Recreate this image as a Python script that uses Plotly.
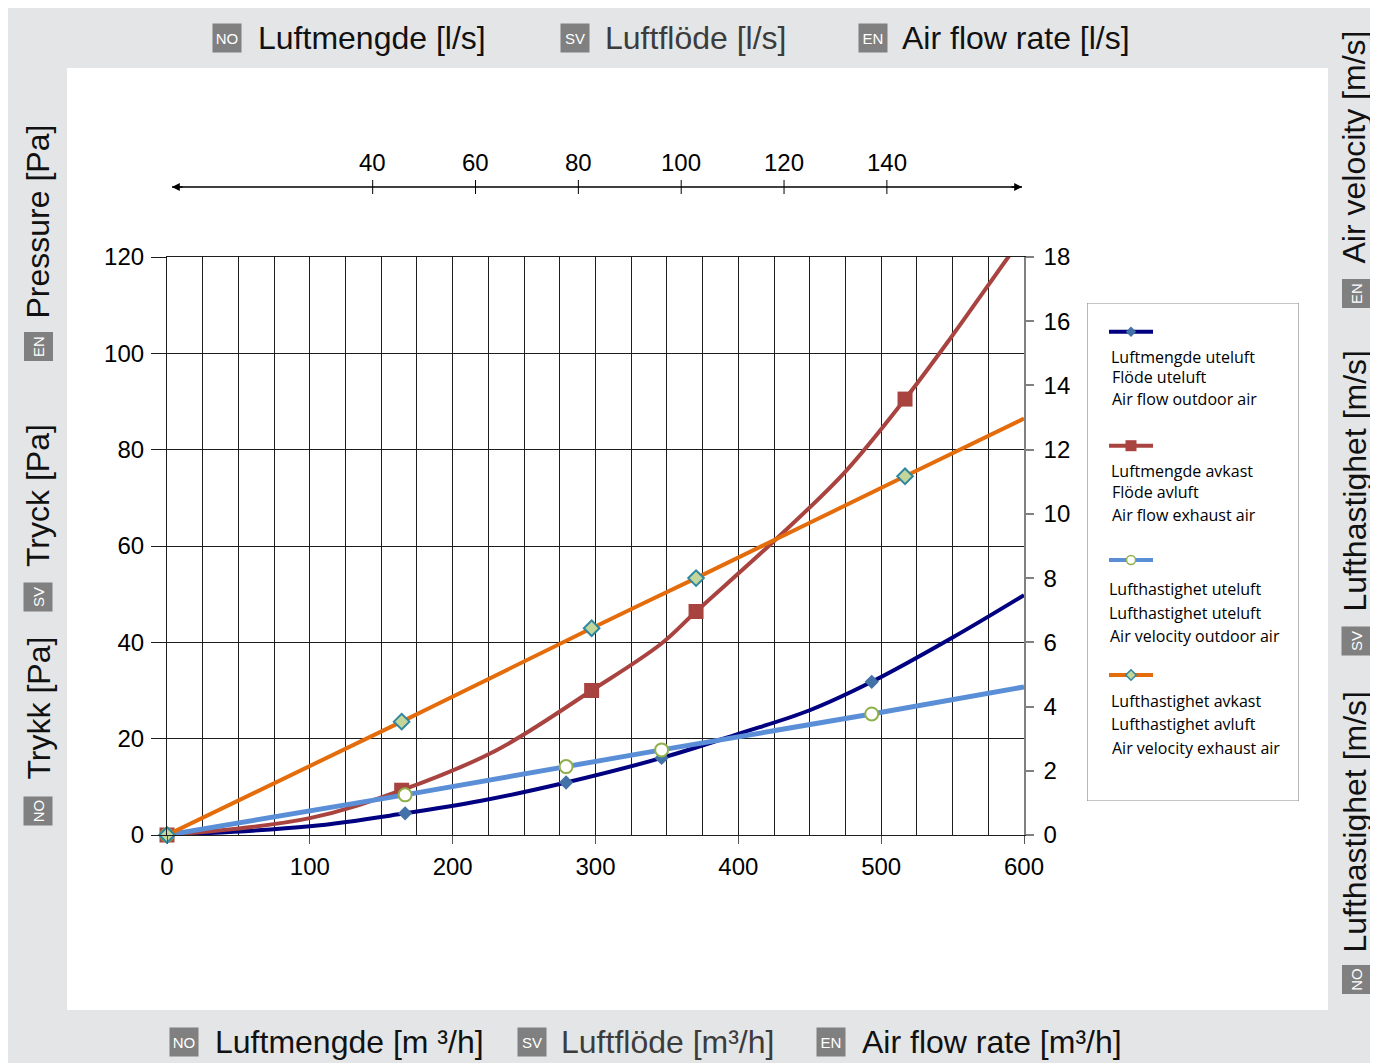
import plotly.graph_objects as go

# ---------------- data ----------------
# marker points, x in m3/h
outdoor_flow = [0, 166.7, 279.4, 346.3, 493.4]
exhaust_flow = [0, 164.3, 297.3, 370.4, 516.7]
outdoor_pressure = [0, 4.5, 10.9, 16.0, 31.8]          # Pa
exhaust_pressure = [0, 9.3, 30.0, 46.4, 90.5]          # Pa
outdoor_velocity = [0, 1.25, 2.13, 2.65, 3.77]         # m/s
exhaust_velocity = [0, 3.53, 6.44, 8.0, 11.17]         # m/s

# curve paths as drawn in the picture
outdoor_p_curve_x = [0, 100, 166.7, 220, 279.4, 346.3, 400, 450, 493.4, 550, 600]
outdoor_p_curve_y = [0, 1.8, 4.5, 7.1, 10.9, 16.0, 21.0, 25.9, 31.8, 41.0, 49.8]
exhaust_p_curve_x = [0, 100, 164.3, 230, 297.3, 346, 370.4, 424.5, 474.5, 516.7, 549.4, 589, 600]
exhaust_p_curve_y = [0, 3.5, 9.3, 17.5, 30.0, 39.7, 46.4, 60.9, 75.3, 90.5, 103.5, 120, 124.5]
outdoor_v_curve_x = [0, 166.7, 279.4, 346.3, 493.4, 600]
outdoor_v_curve_y = [0, 1.25, 2.13, 2.65, 3.77, 4.61]
exhaust_v_curve_x = [0, 164.3, 297.3, 370.4, 516.7, 600]
exhaust_v_curve_y = [0, 3.53, 6.44, 8.0, 11.17, 12.97]

top_ticks_ls = [40, 60, 80, 100, 120, 140]   # l/s
M3H_PER_LS = 3.6

legend_texts = [
    ["Luftmengde uteluft", "Flöde uteluft", "Air flow outdoor air"],
    ["Luftmengde avkast", "Flöde avluft", "Air flow exhaust air"],
    ["Lufthastighet uteluft", "Lufthastighet uteluft", "Air velocity outdoor air"],
    ["Lufthastighet avkast", "Lufthastighet avluft", "Air velocity exhaust air"],
]

# ---------------- styles ----------------
NAVY = "#000080"
RED = "#a9433f"
LBLUE = "#5a8fd8"
ORANGE = "#e46c0a"
GRID = "#1e1e1e"
BG = "#e4e5e7"
BADGE = "#808080"
TICKFONT = dict(family="Liberation Sans", size=24, color="#000")
TITLEFONT = "Liberation Sans"

# figure is placed at (8, 8) in the page (default body margin)
W, H = 1370, 1055
ML, MR, MT = 159, 68, 249
MB = H - (835 - 8)
PW = W - ML - MR
PH = H - MT - MB
X0, Y0 = 167, 835   # plot-area origin in page pixels


def px(x):
    return (x - X0) / PW


def py(y):
    return (Y0 - y) / PH


fig = go.Figure()

SPL = dict(shape="spline", smoothing=1.0)

# main series
fig.add_trace(go.Scatter(x=outdoor_p_curve_x, y=outdoor_p_curve_y, mode="lines",
                         line=dict(color=NAVY, width=4, **SPL),
                         xaxis="x", yaxis="y", showlegend=False, hoverinfo="skip"))
fig.add_trace(go.Scatter(x=outdoor_flow, y=outdoor_pressure, mode="markers",
                         marker=dict(symbol="diamond", size=11, color="#4372a9"),
                         cliponaxis=False, xaxis="x", yaxis="y", showlegend=False))
fig.add_trace(go.Scatter(x=exhaust_p_curve_x, y=exhaust_p_curve_y, mode="lines",
                         line=dict(color=RED, width=4, **SPL),
                         xaxis="x", yaxis="y", showlegend=False, hoverinfo="skip"))
fig.add_trace(go.Scatter(x=exhaust_flow, y=exhaust_pressure, mode="markers",
                         marker=dict(symbol="square", size=15, color=RED),
                         cliponaxis=False, xaxis="x", yaxis="y", showlegend=False))
fig.add_trace(go.Scatter(x=outdoor_v_curve_x, y=outdoor_v_curve_y, mode="lines",
                         line=dict(color=LBLUE, width=5, **SPL),
                         xaxis="x", yaxis="y2", showlegend=False, hoverinfo="skip"))
fig.add_trace(go.Scatter(x=outdoor_flow, y=outdoor_velocity, mode="markers",
                         marker=dict(symbol="circle", size=13, color="white",
                                     line=dict(color="#8fb04a", width=2)),
                         cliponaxis=False, xaxis="x", yaxis="y2", showlegend=False))
fig.add_trace(go.Scatter(x=exhaust_v_curve_x, y=exhaust_v_curve_y, mode="lines",
                         line=dict(color=ORANGE, width=4, **SPL),
                         xaxis="x", yaxis="y2", showlegend=False, hoverinfo="skip"))
fig.add_trace(go.Scatter(x=exhaust_flow, y=exhaust_velocity, mode="markers",
                         marker=dict(symbol="diamond", size=12, color="#c2d69b",
                                     line=dict(color="#2f86a0", width=2)),
                         cliponaxis=False, xaxis="x", yaxis="y2", showlegend=False))

# ---------------- custom legend (symbol above the text) ----------------
legend_styles = [
    dict(line=dict(color=NAVY, width=4), marker=dict(symbol="diamond", size=8, color="#4372a9")),
    dict(line=dict(color=RED, width=4), marker=dict(symbol="square", size=11, color=RED)),
    dict(line=dict(color=LBLUE, width=4), marker=dict(symbol="circle", size=9, color="white",
                                                      line=dict(color="#8fb04a", width=1.5))),
    dict(line=dict(color=ORANGE, width=4), marker=dict(symbol="diamond", size=8, color="#c2d69b",
                                                       line=dict(color="#2f86a0", width=1.5))),
]
legend_sample_y = [331.7, 445.7, 560, 675]
legend_text_y = [[356.7, 377, 399], [471, 492, 515], [589.3, 612.7, 636], [701, 724, 747.7]]
legend_text_x = [[1109, 1110, 1110], [1109, 1110, 1110], [1107, 1107, 1108], [1109, 1109, 1110]]

for i, st in enumerate(legend_styles):
    yy = legend_sample_y[i]
    fig.add_trace(go.Scatter(x=[1109, 1153], y=[yy, yy], mode="lines", line=st["line"],
                             xaxis="x3", yaxis="y3", showlegend=False, hoverinfo="skip"))
    fig.add_trace(go.Scatter(x=[1131], y=[yy], mode="markers", marker=st["marker"],
                             xaxis="x3", yaxis="y3", showlegend=False, hoverinfo="skip",
                             cliponaxis=False))

annotations = []
for i, lines in enumerate(legend_texts):
    for j, t in enumerate(lines):
        annotations.append(dict(x=legend_text_x[i][j], y=legend_text_y[i][j], xref="x3", yref="y3",
                                text=t, showarrow=False, xanchor="left", yanchor="middle",
                                font=dict(family="Open Sans", size=16, color="#000")))

# ---------------- top l/s axis ----------------
shapes = []
line_y = py(187)
shapes.append(dict(type="line", xref="x", yref="paper", x0=3.5, x1=598.6, y0=line_y, y1=line_y,
                   line=dict(color="#000", width=1.3)))
for v in top_ticks_ls:
    xv = v * M3H_PER_LS
    shapes.append(dict(type="line", xref="x", yref="paper", x0=xv, x1=xv, y0=py(180), y1=py(194),
                       line=dict(color="#000", width=1)))
    annotations.append(dict(x=xv, y=py(163), xref="x", yref="paper", text=str(v), showarrow=False,
                            xanchor="center", yanchor="middle", font=TICKFONT))
for xh, ax in [(598.6, -12), (3.5, 12)]:
    annotations.append(dict(x=xh, y=line_y, xref="x", yref="paper", ax=ax, ay=0, text="",
                            showarrow=True, arrowhead=2, arrowsize=1.2, arrowwidth=1.3,
                            arrowcolor="#000", standoff=0))

# ---------------- backgrounds ----------------
shapes.insert(0, dict(type="rect", xref="paper", yref="paper", x0=px(67), x1=px(1328),
                      y0=py(1010), y1=py(68), fillcolor="white", line=dict(width=0), layer="below"))
shapes.append(dict(type="rect", xref="x3", yref="y3", x0=1087, x1=1299, y0=303, y1=801,
                   line=dict(color="#8c8c8c", width=1.2), fillcolor="white", layer="below"))


# ---------------- axis titles with language badges ----------------
def badge(xc, yc, code, angle=0):
    annotations.append(dict(x=px(xc), y=py(yc), xref="paper", yref="paper", text=code,
                            showarrow=False, xanchor="center", yanchor="middle", textangle=angle,
                            font=dict(family="Liberation Sans", size=15, color="white"),
                            bgcolor=BADGE, width=24, height=24, borderpad=2))


def title(x, y, text, angle=0, xanchor="left", color="#111"):
    annotations.append(dict(x=px(x), y=py(y), xref="paper", yref="paper", text=text,
                            showarrow=False, xanchor=xanchor, yanchor="middle", textangle=angle,
                            font=dict(family=TITLEFONT, size=32, color=color)))


# top
badge(227, 38, "NO"); title(256, 38, "Luftmengde [l/s]")
badge(575, 38, "SV"); title(603, 38, "Luftflöde [l/s]", color="#3c3c3c")
badge(873, 38, "EN"); title(900, 38, "Air flow rate [l/s]")
# bottom
badge(184, 1042, "NO"); title(213, 1042, "Luftmengde [m ³/h]")
badge(532, 1042, "SV"); title(559, 1042, "Luftflöde [m³/h]", color="#3c3c3c")
badge(831, 1042, "EN"); title(860, 1042, "Air flow rate [m³/h]")
# left
badge(38, 811, "NO", -90); title(38, 708.5, "Trykk [Pa]", -90, "center")
badge(38, 597, "SV", -90); title(38, 496, "Tryck [Pa]", -90, "center")
badge(38, 346.5, "EN", -90); title(38, 221.5, "Pressure [Pa]", -90, "center")
# right
badge(1356, 979.5, "NO", -90); title(1354, 822.5, "Lufthastighet [m/s]", -90, "center")
badge(1356, 641, "SV", -90); title(1354, 481.5, "Lufthastighet [m/s]", -90, "center")
badge(1356, 293.5, "EN", -90); title(1354, 147.5, "Air velocity [m/s]", -90, "center")

fig.update_layout(
    width=W, height=H,
    margin=dict(l=ML, r=MR, t=MT, b=MB, pad=0),
    paper_bgcolor=BG, plot_bgcolor="white",
    showlegend=False,
    xaxis=dict(domain=[0, px(1024)], range=[0, 600], tick0=0, dtick=100, anchor="y",
               ticks="outside", ticklen=8, tickcolor="#555", tickwidth=1.2,
               showgrid=True, gridcolor=GRID, gridwidth=1.2, zeroline=False,
               showline=True, linecolor=GRID, linewidth=1.2, mirror=True,
               minor=dict(dtick=25, showgrid=True, gridcolor=GRID, gridwidth=1.2, ticks=""),
               tickfont=TICKFONT, ticklabelstandoff=2, fixedrange=True),
    yaxis=dict(domain=[0, 1], range=[0, 120], tick0=0, dtick=20, anchor="x",
               ticks="outside", ticklen=15, tickcolor=GRID, tickwidth=1.2,
               showgrid=True, gridcolor=GRID, gridwidth=1.2, zeroline=False,
               showline=True, linecolor=GRID, linewidth=1.2,
               tickfont=TICKFONT, ticklabelstandoff=2, fixedrange=True),
    yaxis2=dict(overlaying="y", side="right", anchor="x", range=[0, 18], tick0=0, dtick=2,
                ticks="outside", ticklen=8, tickcolor="#808080", tickwidth=1.5,
                showgrid=False, zeroline=False, showline=True, linecolor="#808080", linewidth=1.5,
                tickfont=TICKFONT, ticklabelstandoff=5, fixedrange=True),
    xaxis3=dict(domain=[px(1087), px(1299)], range=[1087, 1299], anchor="y3", visible=False,
                fixedrange=True),
    yaxis3=dict(domain=[py(801), py(303)], range=[801, 303], anchor="x3", visible=False,
                fixedrange=True),
    shapes=shapes,
    annotations=annotations,
)

fig.write_html("out.html")
